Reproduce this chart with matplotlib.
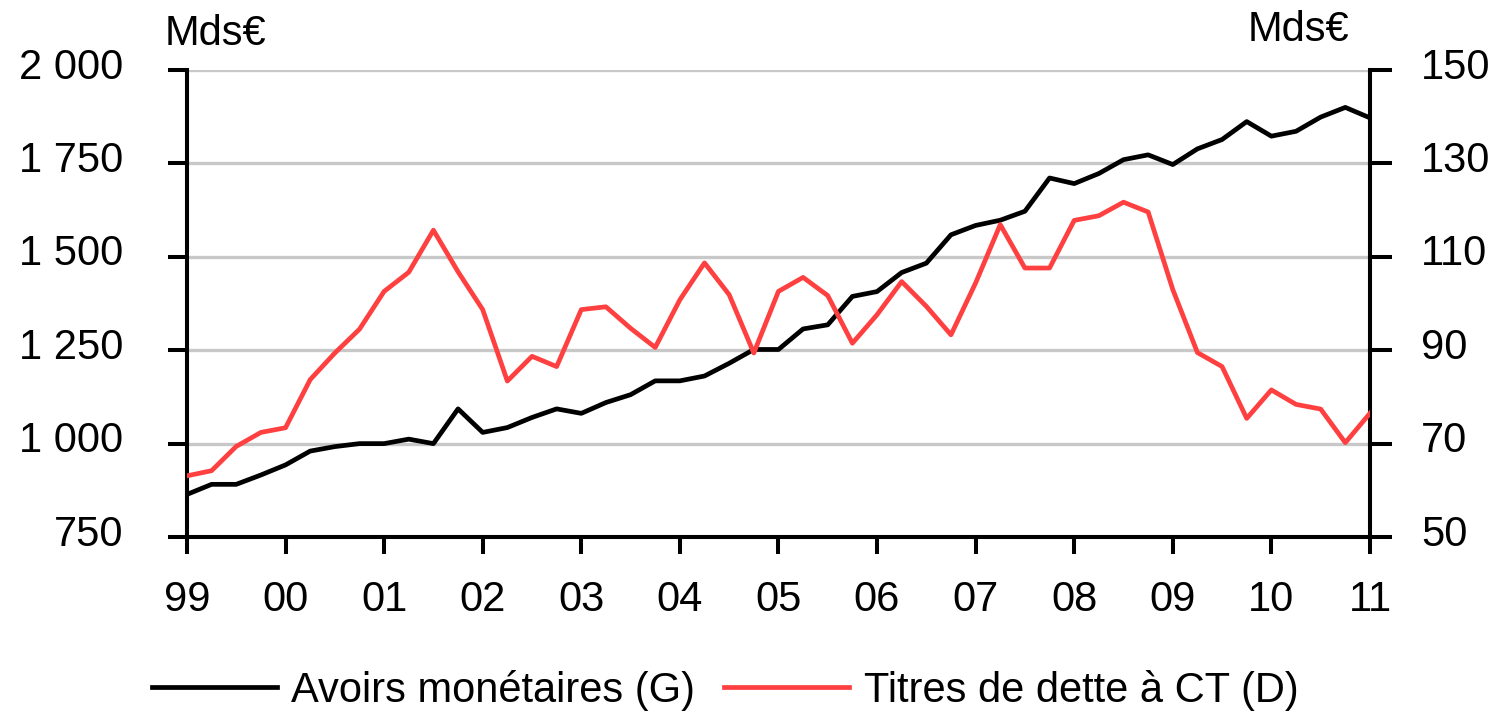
import matplotlib
matplotlib.use("Agg")
import matplotlib.pyplot as plt
import matplotlib.transforms as mtransforms
import numpy as np

plt.rcParams['font.family'] = ['Liberation Sans', 'DejaVu Sans']

# trimestres de 1999 T1 a 2011 T1
dates = 1999 + np.arange(49) / 4

avoirs = [864, 891, 891, 916, 943, 980, 992, 1000, 1000, 1012,
          1000, 1093, 1030, 1043, 1070, 1093, 1081, 1110, 1131, 1168,
          1168, 1181, 1215, 1252, 1252, 1307, 1318, 1394, 1407, 1458,
          1483, 1559, 1584, 1598, 1622, 1711, 1696, 1723, 1760, 1773,
          1747, 1789, 1814, 1862, 1823, 1836, 1874, 1900, 1872]

titres = [63.1, 64.2, 69.4, 72.4, 73.4, 83.7, 89.4, 94.5, 102.6, 106.7,
          115.7, 106.8, 98.7, 83.4, 88.7, 86.5, 98.7, 99.3, 94.7, 90.6,
          100.8, 108.7, 101.9, 89.4, 102.6, 105.6, 101.7, 91.5, 97.6, 104.7,
          99.4, 93.3, 104.4, 116.9, 107.6, 107.6, 117.8, 118.8, 121.7, 119.6,
          103.0, 89.5, 86.5, 75.4, 81.5, 78.4, 77.4, 70.2, 76.5]

gauche_ticks = [750, 1000, 1250, 1500, 1750, 2000]
gauche_labels = ["750", "1 000", "1 250", "1 500", "1 750", "2 000"]
droite_ticks = [50, 70, 90, 110, 130, 150]
annees = np.arange(1999, 2012)
annees_labels = ["99", "00", "01", "02", "03", "04", "05", "06", "07", "08", "09", "10", "11"]

rouge = "#ff4040"
fs = 30

fig = plt.figure(figsize=(14.92, 7.19), dpi=100)
ax = fig.add_axes([0.1253, 0.2531, 0.7929, 0.6495])
ax2 = ax.twinx()

ax.set_zorder(1)
ax2.set_zorder(2)
ax.patch.set_visible(False)

for y in gauche_ticks[1:]:
    ax.axhline(y, color="#c8c8c8", lw=2.4, zorder=0)

l1, = ax.plot(dates, avoirs, color="black", lw=3.4, zorder=3, label="Avoirs monétaires (G)")
l2, = ax2.plot(dates, titres, color=rouge, lw=3.4, zorder=3, label="Titres de dette à CT (D)")

ax.set_xlim(1999, 2011)
ax.set_ylim(750, 2000)
ax2.set_ylim(50, 150)

ax.set_yticks(gauche_ticks)
ax.set_yticklabels(gauche_labels)
ax2.set_yticks(droite_ticks)
ax.set_xticks(annees)
ax.set_xticklabels(annees_labels)

for a in (ax, ax2):
    a.spines["top"].set_visible(False)
    for s in ("left", "right", "bottom"):
        a.spines[s].set_linewidth(2.9)
ax.tick_params(axis="y", length=14, width=2.9, labelsize=fs, pad=32)
ax.tick_params(axis="x", length=12, width=2.9, labelsize=fs, pad=19)
ax2.tick_params(axis="y", length=16, width=2.9, labelsize=fs, pad=21)

# les etiquettes des axes y sont un peu au-dessus des graduations
decalage = mtransforms.ScaledTranslation(0, 5 / 72, fig.dpi_scale_trans)
for lab in ax.get_yticklabels() + ax2.get_yticklabels():
    lab.set_transform(lab.get_transform() + decalage)

fig.text(0.1105, 0.953, "Mds€", fontsize=fs, ha="left", va="center")
fig.text(0.904, 0.958, "Mds€", fontsize=fs, ha="right", va="center")

fig.legend(handles=[l1, l2], loc="center", bbox_to_anchor=(0.486, 0.04), ncol=2,
           frameon=False, fontsize=fs, handlelength=3.0, handletextpad=0.35,
           columnspacing=0.7)

fig.savefig("out.png", dpi=100)
